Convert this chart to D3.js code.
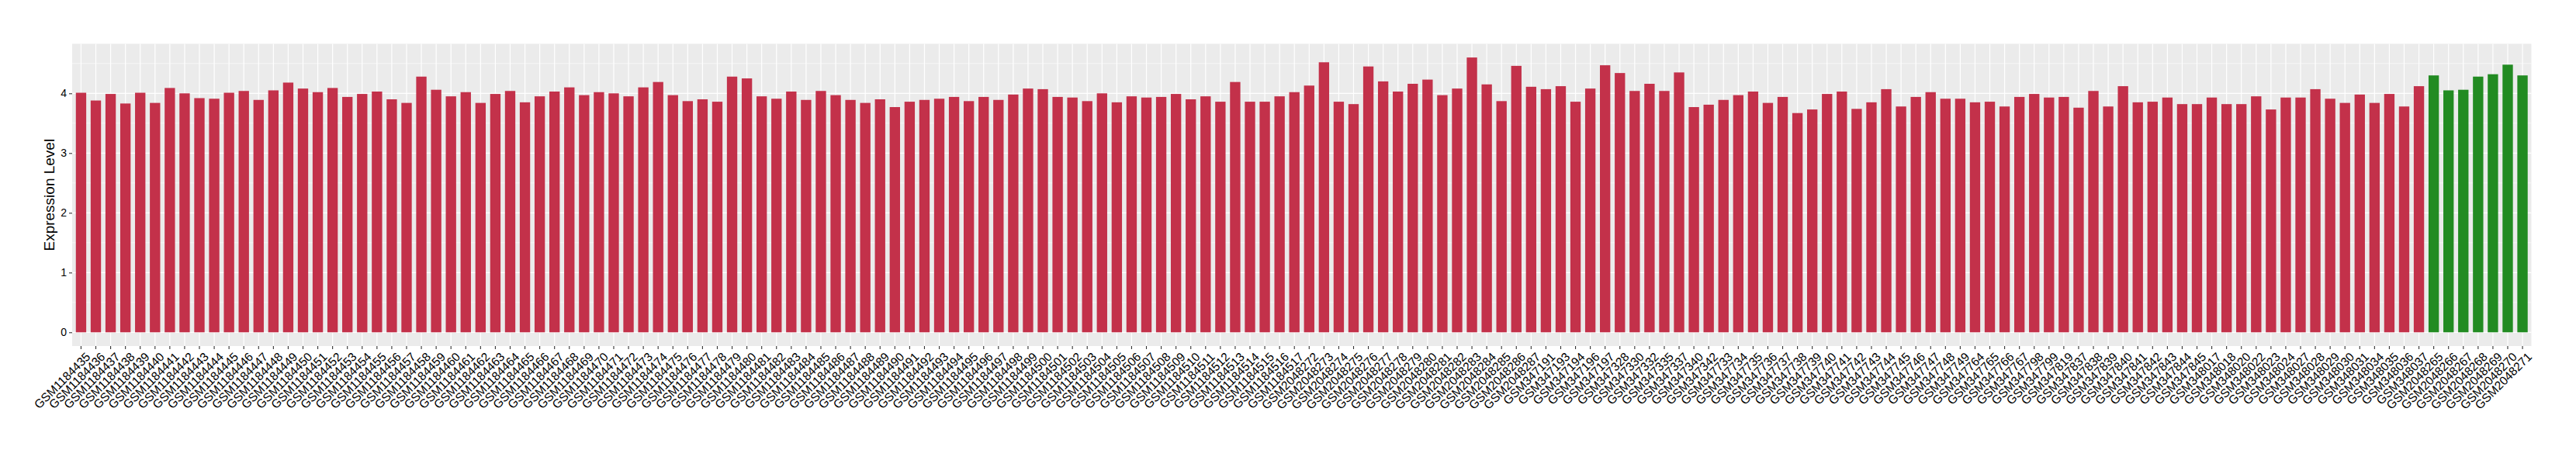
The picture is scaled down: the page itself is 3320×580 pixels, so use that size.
<!DOCTYPE html>
<html>
<head>
<meta charset="utf-8">
<script src="https://cdn.jsdelivr.net/npm/d3@7"></script>
<style>
  html, body { margin: 0; padding: 0; background: #ffffff; }
  svg { display: block; }
  text { font-family: "Liberation Sans", Arial, Helvetica, sans-serif; }
</style>
</head>
<body>
<svg id="chart" width="3320" height="580"></svg>
<script>
// ---------- DATA ----------
const samples = [
  "GSM1184435","GSM1184436","GSM1184437","GSM1184438","GSM1184439","GSM1184440","GSM1184441","GSM1184442","GSM1184443","GSM1184444",
  "GSM1184445","GSM1184446","GSM1184447","GSM1184448","GSM1184449","GSM1184450","GSM1184451","GSM1184452","GSM1184453","GSM1184454",
  "GSM1184455","GSM1184456","GSM1184457","GSM1184458","GSM1184459","GSM1184460","GSM1184461","GSM1184462","GSM1184463","GSM1184464",
  "GSM1184465","GSM1184466","GSM1184467","GSM1184468","GSM1184469","GSM1184470","GSM1184471","GSM1184472","GSM1184473","GSM1184474",
  "GSM1184475","GSM1184476","GSM1184477","GSM1184478","GSM1184479","GSM1184480","GSM1184481","GSM1184482","GSM1184483","GSM1184484",
  "GSM1184485","GSM1184486","GSM1184487","GSM1184488","GSM1184489","GSM1184490","GSM1184491","GSM1184492","GSM1184493","GSM1184494",
  "GSM1184495","GSM1184496","GSM1184497","GSM1184498","GSM1184499","GSM1184500","GSM1184501","GSM1184502","GSM1184503","GSM1184504",
  "GSM1184505","GSM1184506","GSM1184507","GSM1184508","GSM1184509","GSM1184510","GSM1184511","GSM1184512","GSM1184513","GSM1184514",
  "GSM1184515","GSM1184516","GSM1184517",
  "GSM2048272","GSM2048273","GSM2048274","GSM2048275","GSM2048276","GSM2048277","GSM2048278","GSM2048279","GSM2048280","GSM2048281",
  "GSM2048282","GSM2048283","GSM2048284","GSM2048285","GSM2048286","GSM2048287",
  "GSM347191","GSM347193","GSM347194","GSM347196","GSM347197",
  "GSM347328","GSM347330","GSM347332","GSM347335","GSM347337","GSM347340","GSM347342",
  "GSM347733","GSM347734","GSM347735","GSM347736","GSM347737","GSM347738","GSM347739","GSM347740","GSM347741","GSM347742",
  "GSM347743","GSM347744","GSM347745","GSM347746","GSM347747","GSM347748","GSM347749",
  "GSM347764","GSM347765","GSM347766","GSM347767","GSM347798","GSM347799","GSM347819",
  "GSM347837","GSM347838","GSM347839","GSM347840","GSM347841","GSM347842","GSM347843","GSM347844","GSM347845",
  "GSM348017","GSM348018","GSM348020","GSM348022","GSM348023","GSM348024","GSM348027","GSM348028","GSM348029","GSM348030",
  "GSM348031","GSM348034","GSM348035","GSM348036","GSM348037",
  "GSM2048265","GSM2048266","GSM2048267","GSM2048268","GSM2048269","GSM2048270","GSM2048271"
];

const values = [
  4.01, 3.88, 3.99, 3.83, 4.01, 3.84, 4.09, 4.00, 3.92, 3.91,
  4.01, 4.04, 3.89, 4.05, 4.18, 4.08, 4.02, 4.09, 3.94, 3.99,
  4.03, 3.90, 3.84, 4.28, 4.06, 3.95, 4.02, 3.84, 3.99, 4.04,
  3.85, 3.95, 4.03, 4.10, 3.97, 4.02, 4.00, 3.95, 4.10, 4.19,
  3.97, 3.87, 3.90, 3.86, 4.28, 4.25, 3.95, 3.91, 4.03, 3.89,
  4.04, 3.97, 3.89, 3.84, 3.90, 3.77, 3.86, 3.89, 3.91, 3.94,
  3.87, 3.94, 3.89, 3.98, 4.08, 4.07, 3.94, 3.93, 3.87, 4.00,
  3.85, 3.95, 3.93, 3.94, 3.99, 3.90, 3.95, 3.86, 4.19, 3.86,
  3.86, 3.95, 4.02,
  4.13, 4.52, 3.86, 3.82, 4.45, 4.20, 4.03, 4.16, 4.23, 3.97,
  4.08, 4.60, 4.15, 3.87, 4.46, 4.11,
  4.07, 4.12, 3.86, 4.08, 4.47,
  4.34, 4.04, 4.16, 4.04, 4.35, 3.77, 3.81,
  3.89, 3.97, 4.03, 3.84, 3.94, 3.67, 3.73, 3.99, 4.03, 3.74,
  3.85, 4.07, 3.78, 3.94, 4.02, 3.91, 3.91,
  3.85, 3.86, 3.78, 3.94, 3.99, 3.93, 3.94,
  3.76, 4.04, 3.78, 4.12, 3.85, 3.86, 3.93, 3.82, 3.82,
  3.93, 3.82, 3.82, 3.95, 3.73, 3.93, 3.93, 4.07, 3.91, 3.84,
  3.98, 3.84, 3.99, 3.78, 4.12,
  4.30, 4.05, 4.06, 4.28, 4.32, 4.48, 4.30
];

// group of each sample: first 159 are "case", last 7 are "control"
const groups = samples.map((s, i) => i < samples.length - 7 ? "case" : "control");
const groupNames = ["case", "control"];
const groupColors = ["#C3314A", "#228B22"];

const yTicks = [0, 1, 2, 3, 4];
const yMinor = [0.5, 1.5, 2.5, 3.5, 4.5];
const yTitle = "Expression Level";

// ---------- LAYOUT ----------
const panel = { left: 93, right: 3262.5, top: 56.4, bottom: 446 };
const svg = d3.select("#chart");

const x = d3.scaleBand()
  .domain(samples)
  .range([panel.left, panel.right])
  .paddingInner(0.3)
  .paddingOuter(0.25);

const yMax = d3.max(values);
const y = d3.scaleLinear()
  .domain([-0.05 * yMax, 1.05 * yMax])
  .range([panel.bottom, panel.top]);

const color = d3.scaleOrdinal().domain(groupNames).range(groupColors);

// panel background
svg.append("rect")
  .attr("x", panel.left).attr("y", panel.top)
  .attr("width", panel.right - panel.left)
  .attr("height", panel.bottom - panel.top)
  .attr("fill", "#EBEBEB");

// minor horizontal gridlines
svg.append("g").selectAll("line").data(yMinor.filter(v => y(v) > panel.top)).join("line")
  .attr("x1", panel.left).attr("x2", panel.right)
  .attr("y1", d => y(d)).attr("y2", d => y(d))
  .attr("stroke", "#ffffff").attr("stroke-width", 0.6);

// major horizontal gridlines
svg.append("g").selectAll("line").data(yTicks).join("line")
  .attr("x1", panel.left).attr("x2", panel.right)
  .attr("y1", d => y(d)).attr("y2", d => y(d))
  .attr("stroke", "#ffffff").attr("stroke-width", 1.2);

// vertical gridlines at categories
svg.append("g").selectAll("line").data(samples).join("line")
  .attr("x1", d => x(d) + x.bandwidth() / 2).attr("x2", d => x(d) + x.bandwidth() / 2)
  .attr("y1", panel.top).attr("y2", panel.bottom)
  .attr("stroke", "#ffffff").attr("stroke-width", 1.2);

// bars
svg.append("g").selectAll("rect").data(samples).join("rect")
  .attr("x", d => x(d))
  .attr("width", x.bandwidth())
  .attr("y", (d, i) => y(values[i]))
  .attr("height", (d, i) => y(0) - y(values[i]))
  .attr("fill", (d, i) => color(groups[i]));

// y axis
const yAxis = d3.axisLeft(y).tickValues(yTicks).tickSize(4).tickPadding(3).tickFormat(d3.format("d"));
const gy = svg.append("g").attr("transform", `translate(${panel.left},0)`).call(yAxis);
gy.select(".domain").remove();
gy.selectAll(".tick line").attr("stroke", "#333333").attr("stroke-width", 1.1);
gy.selectAll(".tick text").attr("fill", "#000000").style("font-size", "14px")
  .style("font-family", "'Liberation Sans', Arial, sans-serif");

// x axis
const xAxis = d3.axisBottom(x).tickSize(4).tickPadding(2);
const gx = svg.append("g").attr("transform", `translate(0,${panel.bottom})`).call(xAxis);
gx.select(".domain").remove();
gx.selectAll(".tick line").attr("stroke", "#333333").attr("stroke-width", 1.1);
gx.selectAll(".tick text")
  .attr("fill", "#000000")
  .style("font-size", "15.5px")
  .style("font-family", "'Liberation Sans', Arial, sans-serif")
  .attr("text-anchor", "end")
  .attr("dy", null)
  .attr("y", 0)
  .attr("transform", "translate(5,7) rotate(-45)")
  .attr("dominant-baseline", "hanging");

// y title
svg.append("text")
  .attr("transform", `translate(70,${(panel.top + panel.bottom) / 2}) rotate(-90)`)
  .attr("text-anchor", "middle")
  .attr("fill", "#000000")
  .style("font-size", "19px")
  .text(yTitle);
</script>
</body>
</html>
